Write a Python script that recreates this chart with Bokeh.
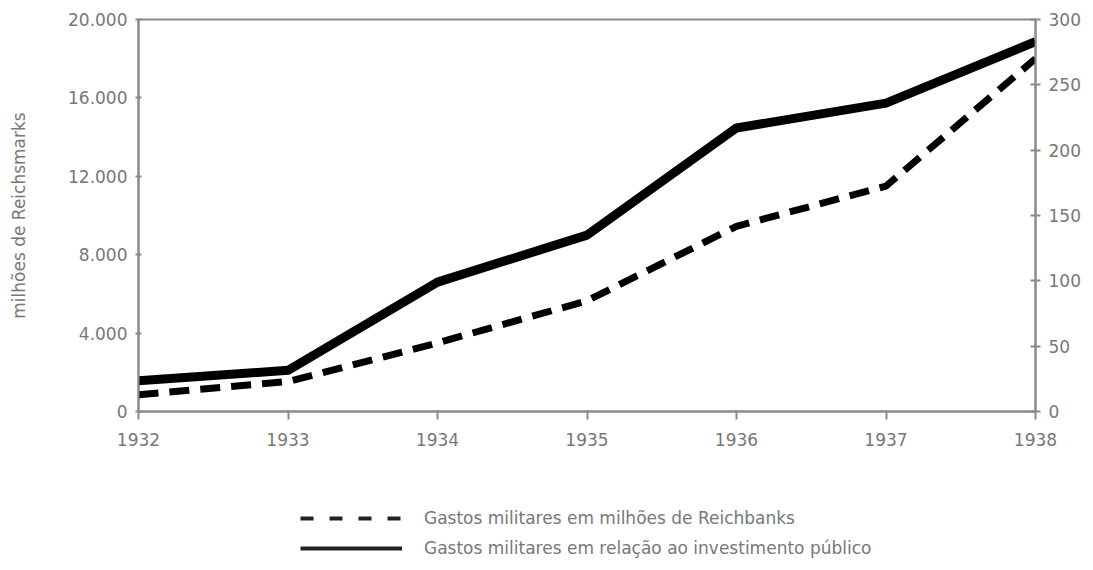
from bokeh.plotting import figure
from bokeh.models import Range1d, LinearAxis, FixedTicker, Legend, LegendItem
from bokeh.layouts import column
from bokeh.embed import file_html
from bokeh.resources import INLINE

years = [1932, 1933, 1934, 1935, 1936, 1937, 1938]
gastos_milhoes = [850, 1530, 3500, 5650, 9450, 11500, 18000]
gastos_pct_invest = [23.5, 31.5, 99, 135, 217, 236, 283]
left_ticks = [0, 4000, 8000, 12000, 16000, 20000]
left_labels = ["0", "4.000", "8.000", "12.000", "16.000", "20.000"]
right_ticks = [0, 50, 100, 150, 200, 250, 300]
label_dashed = "Gastos militares em milhões de Reichbanks"
label_solid = "Gastos militares em relação ao investimento público"

FONT = "DejaVu Sans"
GRAY = "#8a8a8a"
TXT = "#777777"
W = 1090

p = figure(width=W, height=470, output_backend="svg", toolbar_location=None,
           x_range=Range1d(1932, 1938), y_range=Range1d(0, 20000),
           min_border_left=138, min_border_right=55, min_border_top=19, min_border_bottom=59)
p.extra_y_ranges = {"pct": Range1d(0, 300)}
p.xgrid.visible = False
p.ygrid.visible = False
p.outline_line_color = GRAY
p.outline_line_width = 2
p.background_fill_color = "white"
p.border_fill_color = "white"

# left axis
ya = p.yaxis[0]
ya.ticker = FixedTicker(ticks=left_ticks)
ya.major_label_overrides = {t: l for t, l in zip(left_ticks, left_labels)}
ya.axis_label = "milhões de Reichsmarks"
ya.axis_label_text_font = FONT
ya.axis_label_text_font_style = "normal"
ya.axis_label_text_font_size = "17px"
ya.axis_label_text_color = TXT
ya.axis_label_standoff = 36

# x axis
xa = p.xaxis[0]
xa.ticker = FixedTicker(ticks=years)
xa.major_label_standoff = 13

# right axis
ra = LinearAxis(y_range_name="pct", ticker=FixedTicker(ticks=right_ticks))
p.add_layout(ra, "right")

for ax in [ya, xa, ra]:
    ax.axis_line_color = GRAY
    ax.axis_line_width = 2
    ax.major_tick_line_color = GRAY
    ax.major_tick_line_width = 2
    ax.minor_tick_line_color = None
    ax.major_label_text_font = FONT
    ax.major_label_text_font_size = "17px"
    ax.major_label_text_color = TXT
ya.major_tick_in = 3
ya.major_tick_out = 3
ya.major_label_standoff = 8
ra.major_tick_in = 5
ra.major_tick_out = 5
ra.major_label_standoff = 8
xa.major_tick_in = 1
xa.major_tick_out = 8

# data lines
p.line(years, gastos_milhoes, line_color="black", line_width=7, line_dash="20 11")
p.line(years, gastos_pct_invest, y_range_name="pct", line_color="black", line_width=9, line_join="round")

# legend in a small companion figure below the chart
# (its line renderers carry the series but lie outside this figure's 0..1 ranges,
#  so only their thinner legend samples are seen)
lg = figure(width=W, height=95, output_backend="svg", toolbar_location=None,
            x_range=Range1d(0, 1), y_range=Range1d(0, 1),
            min_border_left=0, min_border_right=0, min_border_top=0, min_border_bottom=0)
lg.axis.visible = False
lg.grid.visible = False
lg.outline_line_color = None
r_d = lg.line(years, gastos_milhoes, line_color="#222222", line_width=4, line_dash="13 16")
r_s = lg.line(years, gastos_pct_invest, line_color="#222222", line_width=4)

legend = Legend(items=[LegendItem(label=label_dashed, renderers=[r_d]),
                       LegendItem(label=label_solid, renderers=[r_s])],
                location=(162, 7), orientation="vertical",
                glyph_width=102, glyph_height=20, label_height=20, spacing=10,
                label_standoff=22, padding=0, margin=0,
                border_line_color=None, background_fill_alpha=0,
                label_text_font=FONT, label_text_font_size="17px", label_text_color=TXT)
lg.add_layout(legend, "center")

open("out.html", "w").write(file_html(column(p, lg, spacing=0), INLINE))
